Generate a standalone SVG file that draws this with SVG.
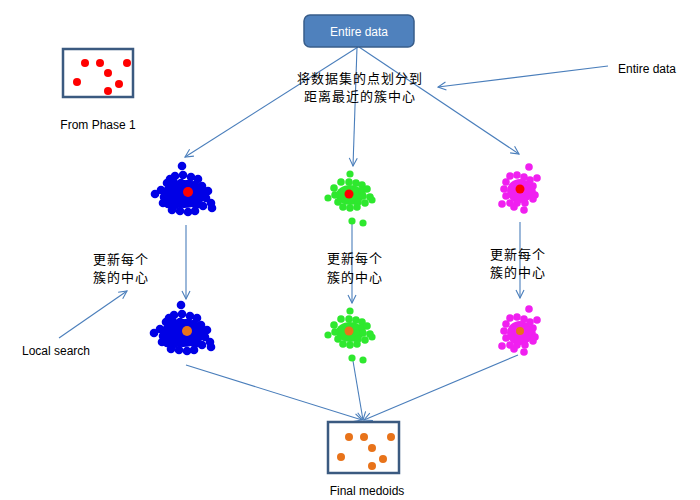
<svg xmlns="http://www.w3.org/2000/svg" xmlns:xlink="http://www.w3.org/1999/xlink" width="700" height="500" viewBox="0 0 700 500">
<style>
.lbl{font-family:"Liberation Sans","Noto Sans",sans-serif;font-size:12px;fill:#000}
.cn{font-family:"Noto Sans CJK SC","Noto Sans",sans-serif;font-size:13px;letter-spacing:1px;fill:#000}
.con{stroke:#4A7EBB;stroke-width:1.1;fill:none}
.box{fill:#fff;stroke:#3B5A80;stroke-width:2.5}
</style>
<defs>
<marker id="arr" markerWidth="10" markerHeight="10" refX="9" refY="5" orient="auto" markerUnits="userSpaceOnUse">
<path d="M1,1 L9,5 L1,9" fill="none" stroke="#4A7EBB" stroke-width="1.1"/>
</marker>
<g id="blobBlue" fill="#0000E6">
<ellipse cx="-4" cy="2" rx="22" ry="14"/>
<circle cx="-6" cy="-26" r="4.3"/><circle cx="-13" cy="-16" r="4.3"/><circle cx="-5" cy="-17" r="4.3"/><circle cx="3" cy="-15" r="4.3"/><circle cx="10" cy="-13" r="4.3"/><circle cx="-18" cy="-13" r="4.3"/>
<circle cx="-21" cy="-9" r="4.3"/><circle cx="-14" cy="-9" r="4.3"/><circle cx="-7" cy="-9" r="4.3"/><circle cx="0" cy="-8" r="4.3"/><circle cx="7" cy="-7" r="4.3"/><circle cx="14" cy="-6" r="4.3"/>
<circle cx="-27" cy="-2" r="4.3"/><circle cx="-20" cy="-2" r="4.3"/><circle cx="15" cy="1" r="4.3"/><circle cx="20" cy="-1" r="4.3"/>
<circle cx="-33" cy="2" r="4.3"/><circle cx="-24" cy="5" r="4.3"/><circle cx="11" cy="7" r="4.3"/><circle cx="18" cy="6" r="4.3"/>
<circle cx="-20" cy="12" r="4.3"/><circle cx="-13" cy="13" r="4.3"/><circle cx="8" cy="13" r="4.3"/><circle cx="15" cy="14" r="4.3"/><circle cx="23" cy="11" r="4.3"/><circle cx="24" cy="16" r="4.3"/>
<circle cx="-16" cy="18" r="4.3"/><circle cx="-8" cy="19" r="4.3"/><circle cx="0" cy="20" r="4.3"/><circle cx="7" cy="19" r="4.3"/><circle cx="-25" cy="11" r="4.3"/>
</g>
<g id="blobGreen" fill="#2EE82E">
<ellipse cx="1" cy="1" rx="14" ry="10"/>
<circle cx="1" cy="-20" r="3.6"/><circle cx="-8" cy="-12" r="3.8"/><circle cx="0" cy="-12" r="3.8"/><circle cx="7" cy="-11" r="3.8"/><circle cx="13" cy="-9" r="3.8"/>
<circle cx="-15" cy="-6" r="3.8"/><circle cx="13" cy="-3" r="3.8"/><circle cx="18" cy="-5" r="3.8"/>
<circle cx="-21" cy="4" r="3.6"/><circle cx="-14" cy="1" r="3.8"/><circle cx="14" cy="2" r="3.8"/><circle cx="21" cy="3" r="3.8"/>
<circle cx="-11" cy="8" r="3.8"/><circle cx="9" cy="8" r="3.8"/><circle cx="16" cy="9" r="3.8"/><circle cx="23" cy="6" r="3.6"/>
<circle cx="-6" cy="13" r="3.8"/><circle cx="1" cy="14" r="3.8"/><circle cx="8" cy="13" r="3.8"/><circle cx="3" cy="27" r="3.6"/><circle cx="14" cy="29" r="3.6"/>
</g>
<g id="blobMag" fill="#F020F0">
<ellipse cx="0" cy="2" rx="13" ry="12"/>
<circle cx="9" cy="-22" r="3.8"/><circle cx="17" cy="-11" r="3.8"/>
<circle cx="-10" cy="-13" r="3.8"/><circle cx="-3" cy="-14" r="3.8"/><circle cx="4" cy="-12" r="3.8"/><circle cx="10" cy="-9" r="3.8"/>
<circle cx="-14" cy="-7" r="3.8"/><circle cx="13" cy="-3" r="3.8"/>
<circle cx="-16" cy="0" r="3.8"/><circle cx="12" cy="2" r="3.8"/><circle cx="15" cy="6" r="3.8"/>
<circle cx="-14" cy="7" r="3.8"/><circle cx="13" cy="10" r="3.8"/>
<circle cx="-10" cy="14" r="3.8"/><circle cx="-3" cy="14" r="3.8"/><circle cx="5" cy="14" r="3.8"/><circle cx="-6" cy="18" r="3.8"/><circle cx="-18" cy="15" r="3.8"/><circle cx="4" cy="21" r="3.8"/>
</g>
</defs>
<rect width="700" height="500" fill="#fff"/>

<g id="connectors" class="con" marker-end="url(#arr)">
<line x1="358" y1="47" x2="185" y2="157"/>
<line x1="357" y1="47" x2="353" y2="166"/>
<line x1="359" y1="47" x2="519" y2="154"/>
<line x1="608" y1="66" x2="438" y2="87"/>
<line x1="186" y1="225" x2="186" y2="299"/>
<line x1="352" y1="222" x2="352" y2="303"/>
<line x1="520" y1="222" x2="520" y2="298"/>
<line x1="59" y1="338" x2="127" y2="291"/>
<line x1="186" y1="365" x2="362" y2="420"/>
<line x1="352" y1="355" x2="363" y2="420"/>
<line x1="518" y1="355" x2="364" y2="420"/>
</g>

<g id="entire-data">
<rect x="304" y="15" width="110" height="32" rx="6" fill="#4F81BD" stroke="#385D8A" stroke-width="1.5"/>
<text x="359" y="36" text-anchor="middle" class="lbl" style="fill:#fff">Entire data</text>
</g>

<g id="phase1">
<rect class="box" x="63" y="49" width="70" height="48"/>
<g fill="#FF0000">
<circle cx="85" cy="63" r="4"/><circle cx="100" cy="63" r="4"/><circle cx="127" cy="63" r="4"/><circle cx="108" cy="73" r="4"/><circle cx="77" cy="82" r="4"/><circle cx="119" cy="84" r="4"/><circle cx="108" cy="91" r="4"/>
</g>
<text x="98" y="129" text-anchor="middle" class="lbl">From Phase 1</text>
</g>

<g id="final">
<rect class="box" x="328" y="422" width="71" height="51"/>
<g fill="#E8731A">
<circle cx="349" cy="437" r="4"/><circle cx="364" cy="437" r="4"/><circle cx="391" cy="437" r="4"/><circle cx="372" cy="448" r="4"/><circle cx="341" cy="457" r="4"/><circle cx="383" cy="459" r="4"/><circle cx="372" cy="466" r="4"/>
</g>
<text x="367" y="495" text-anchor="middle" class="lbl">Final medoids</text>
</g>

<g id="blue-top"><use xlink:href="#blobBlue" x="188" y="192"/><circle cx="188" cy="192" r="5" fill="#FF0000"/></g>
<g id="green-top"><use xlink:href="#blobGreen" x="349" y="194"/><circle cx="349" cy="194" r="4.5" fill="#FF0000"/></g>
<g id="mag-top"><use xlink:href="#blobMag" x="520" y="189"/><circle cx="520" cy="189" r="4.5" fill="#FF0000"/></g>
<g id="blue-bot"><use xlink:href="#blobBlue" x="187" y="331"/><circle cx="187" cy="331" r="5" fill="#E8731A"/></g>
<g id="green-bot"><use xlink:href="#blobGreen" x="349" y="331"/><circle cx="349" cy="331" r="4.5" fill="#E8731A"/></g>
<g id="mag-bot"><use xlink:href="#blobMag" x="520" y="331"/><circle cx="520" cy="331" r="4" fill="#E8731A"/></g>

<g id="labels">
<text x="360" y="83" text-anchor="middle" class="cn">将数据集的点划分到</text>
<text x="360" y="101" text-anchor="middle" class="cn">距离最近的簇中心</text>
<text x="93" y="264" class="cn">更新每个</text>
<text x="93" y="282" class="cn">簇的中心</text>
<text x="327" y="263" class="cn">更新每个</text>
<text x="327" y="282" class="cn">簇的中心</text>
<text x="490" y="259" class="cn">更新每个</text>
<text x="490" y="277" class="cn">簇的中心</text>
<text x="618" y="73" class="lbl">Entire data</text>
<text x="22" y="355" class="lbl">Local search</text>
</g>
</svg>
